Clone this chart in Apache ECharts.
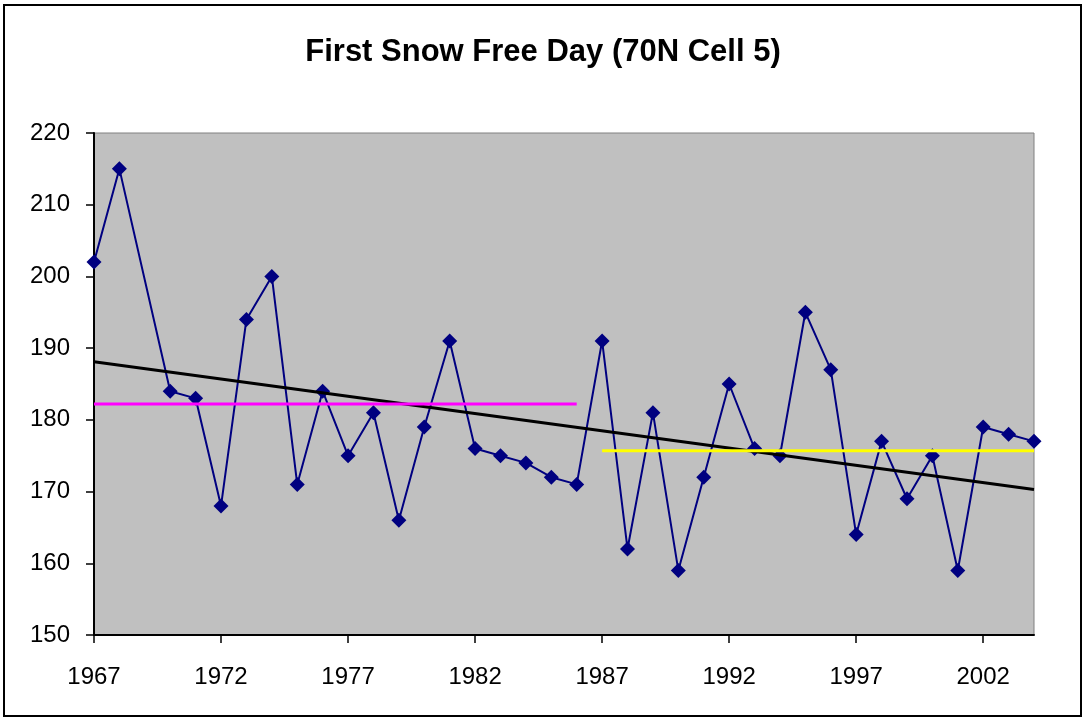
<!DOCTYPE html>
<html>
<head>
<meta charset="utf-8">
<script src="https://cdn.jsdelivr.net/npm/echarts@6/dist/echarts.min.js"></script>
<style>
html,body{margin:0;padding:0;background:#fff;}
#c{width:1086px;height:721px;}
</style>
</head>
<body>
<div id="c"></div>
<script>
const years = [1967,1968,1969,1970,1971,1972,1973,1974,1975,1976,1977,1978,1979,1980,1981,1982,1983,1984,1985,1986,1987,1988,1989,1990,1991,1992,1993,1994,1995,1996,1997,1998,1999,2000,2001,2002,2003,2004];
const snowFreeDay = [202,215,null,184,183,168,194,200,171,184,175,181,166,179,191,176,175,174,172,171,191,162,181,159,172,185,176,175,195,187,164,177,169,175,159,179,178,177];
const trendLine = [[1967,188.1],[2004,170.3]];
const meanEarly = [[1967,182.2],[1986,182.2]];
const meanLate = [[1987,175.7],[2004,175.7]];
const xTicks = [1967,1972,1977,1982,1987,1992,1997,2002];
const yTicks = [150,160,170,180,190,200,210,220];

const font = '"Liberation Sans", Arial, sans-serif';
const chart = echarts.init(document.getElementById('c'), null, {renderer:'canvas'});
chart.setOption({
  animation:false,
  backgroundColor:'#fff',
  title:{
    text:'First Snow Free Day (70N Cell 5)',
    left:'center', top:32,
    textStyle:{fontFamily:font, fontWeight:'bold', fontSize:31, color:'#000'}
  },
  graphic:[{
    type:'rect', shape:{x:4,y:5,width:1077,height:711},
    style:{fill:'none', stroke:'#000', lineWidth:2}, z:100
  }],
  grid:{
    left:94, right:52, top:133, bottom:86,
    show:true, backgroundColor:'#C0C0C0', borderColor:'#808080', borderWidth:1
  },
  xAxis:{
    type:'value', min:1967, max:2004, interval:5,
    axisLine:{show:true, onZero:false, lineStyle:{color:'#000', width:2}},
    axisTick:{show:true, length:8, inside:false, customValues:xTicks, lineStyle:{color:'#000', width:1.5}},
    axisLabel:{customValues:xTicks, margin:30, fontFamily:font, fontSize:24, color:'#000', formatter:v=>String(v)},
    splitLine:{show:false}
  },
  yAxis:{
    type:'value', min:150, max:220, interval:10,
    axisLine:{show:true, lineStyle:{color:'#000', width:2}},
    axisTick:{show:true, length:8, inside:false, customValues:yTicks, lineStyle:{color:'#000', width:1.5}},
    axisLabel:{customValues:yTicks, margin:24, fontFamily:font, fontSize:24, color:'#000'},
    splitLine:{show:false}
  },
  series:[
    {
      type:'line', name:'Snow free day',
      data: years.map((y,i)=>[y, snowFreeDay[i]]),
      connectNulls:true,
      symbol:'diamond', symbolSize:15,
      lineStyle:{color:'#000080', width:2},
      itemStyle:{color:'#000080'},
      z:2
    },
    {
      type:'line', name:'Trend', data:trendLine, symbol:'none',
      lineStyle:{color:'#000', width:3}, z:3
    },
    {
      type:'line', name:'Mean 1967-1986', data:meanEarly, symbol:'none',
      lineStyle:{color:'#FF00FF', width:3}, z:3
    },
    {
      type:'line', name:'Mean 1987-2004', data:meanLate, symbol:'none',
      lineStyle:{color:'#FFFF00', width:3}, z:3
    }
  ]
});
</script>
</body>
</html>
